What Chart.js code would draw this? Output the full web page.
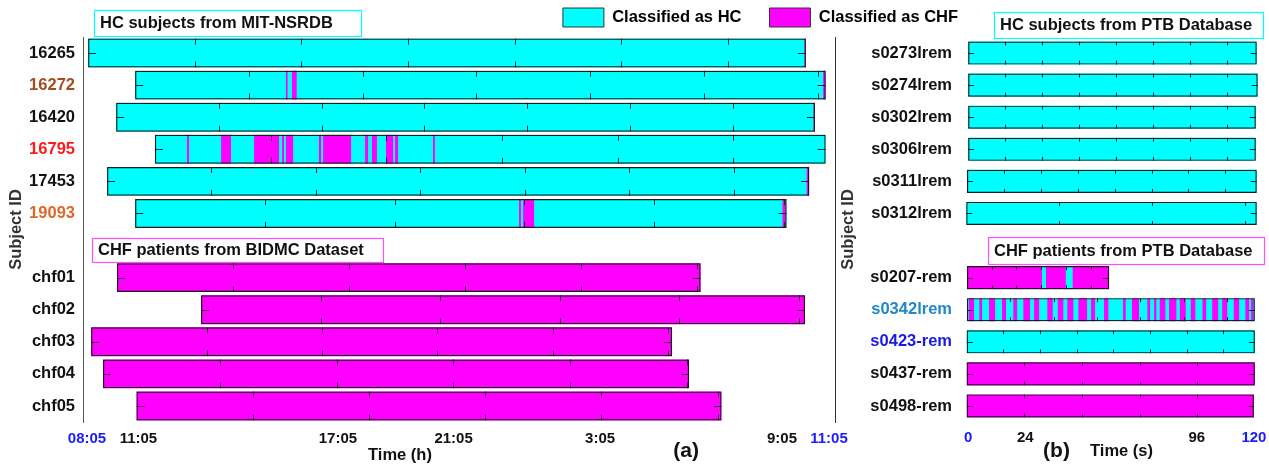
<!DOCTYPE html>
<html>
<head>
<meta charset="utf-8">
<script src="https://cdn.jsdelivr.net/npm/chart.js"></script>
<style>
html, body { margin: 0; padding: 0; background: #fff; overflow: hidden; width: 1269px; height: 466px; }
#wrap { position: relative; width: 1269px; height: 466px; overflow: hidden; background: #fff; }
#ca { position: absolute; left: 0; top: 0; }
#cb { position: absolute; left: 835px; top: 0; }
</style>
</head>
<body>
<div id="wrap">
  <canvas id="ca" width="1521" height="466"></canvas>
  <canvas id="cb" width="434" height="466"></canvas>
</div>
<script>
// ---------------- Panel (a): MIT-NSRDB / BIDMC (time in hours since 08:05) ----------------
const rowsA = ['16265', '16272', '16420', '16795', '17453', '19093', '', 'chf01', 'chf02', 'chf03', 'chf04', 'chf05'];
const classA = ['HC', 'HC', 'HC', 'HC', 'HC', 'HC', null, 'CHF', 'CHF', 'CHF', 'CHF', 'CHF'];
const startA = [0.04, 1.75, 1.06, 2.47, 0.73, 1.75, null, 1.09, 4.15, 0.15, 0.58, 1.80];
const endA = [26.16, 26.88, 26.49, 26.88, 26.28, 25.46, null, 22.33, 26.13, 21.29, 21.91, 23.09];
// intervals classified as the other class
const flipA = [
  [[26.11, 26.16]],
  [[7.24, 7.30], [7.46, 7.63], [26.79, 26.88]],
  [[26.44, 26.49]],
  [[3.64, 3.71], [4.88, 5.24], [6.08, 6.99], [7.10, 7.17], [7.24, 7.50], [8.44, 8.52], [8.59, 9.61],
   [10.12, 10.23], [10.37, 10.55], [10.88, 11.14], [11.21, 11.32], [12.59, 12.66]],
  [[26.19, 26.28]],
  [[15.72, 15.79], [15.87, 16.27], [25.31, 25.43]],
  [], [], [], [], [], []
];
const tickStepA = [3.88, 4.14, 3.74, 4.21, 3.80, 4.72, null, 4.22, 4.35, 4.20, 4.25, 4.23];
const xTickValsA = [0, 1.87, 9.13, 13.34, 18.67, 25.29, 27];
const xTickLabelsA = ['08:05', '11:05', '17:05', '21:05', '3:05', '9:05', '11:05'];
const yColorA = ['#111', '#a54b1e', '#111', '#ff1a1a', '#111', '#e0672a', '#111', '#111', '#111', '#111', '#111', '#111'];

// ---------------- Panel (b): PTB (time in seconds) ----------------
const rowsB = ['s0273lrem', 's0274lrem', 's0302lrem', 's0306lrem', 's0311lrem', 's0312lrem', '',
               's0207-rem', 's0342lrem', 's0423-rem', 's0437-rem', 's0498-rem'];
const classB = ['HC', 'HC', 'HC', 'HC', 'HC', 'HC', null, 'CHF', 'HC', 'HC', 'CHF', 'CHF'];
const startB = [0, 0, 0, 0, -0.5, -0.8, null, -0.5, -0.5, -0.6, -0.6, -0.6];
const endB = [121.2, 121.6, 120.8, 120.8, 121.2, 121.2, null, 59.2, 120.4, 120.4, 120.4, 120.0];
const flipB = [
  [], [], [], [], [], [], [],
  [[31.0, 32.7], [41.0, 43.9]],
  [[0.38, 2.48], [4.70, 5.84], [8.78, 11.30], [14.24, 15.92], [18.98, 20.54], [23.18, 26.00],
   [27.68, 29.78], [33.26, 35.53], [37.63, 39.98], [41.66, 44.18], [46.28, 49.94], [51.62, 53.30],
   [57.08, 58.88], [65.06, 66.19], [68.82, 71.76], [75.26, 76.40], [78.08, 79.04], [80.47, 82.82],
   [84.38, 87.44], [88.87, 91.39], [93.49, 95.42], [98.40, 99.96], [102.48, 105.00], [106.68, 108.78],
   [111.55, 113.78], [116.42, 117.98], [118.82, 119.78]],
  [], [], []
];
const tickStepB = [15.5, 15.5, 15.5, 15.5, 15.5, 39, null, 10.4, 18.2, 15.4, 24.2, 24.2];
const xTickValsB = [0, 24, 96, 120];
const xTickLabelsB = ['0', '24', '96', '120'];
const yColorB = ['#111', '#111', '#111', '#111', '#111', '#111', '#111', '#111', '#1e88c8', '#1a1ae6', '#111', '#111'];

// ---------------- styling ----------------
const CYAN = '#00ffff', MAGENTA = '#ff00ff', BLUE = '#1a1aff';
const COLORS = { HC: CYAN, CHF: MAGENTA };
const FONT = "'Liberation Sans', Arial, Helvetica, sans-serif";
Chart.defaults.font.family = FONT;

function makeDatasets(rows, cls, st, en, flips, pct) {
  const base = [], flip = [], outline = [];
  rows.forEach((r, i) => {
    if (!cls[i]) return;
    base.push({ y: r, x: [st[i], en[i]], c: COLORS[cls[i]] });
    outline.push({ y: r, x: [st[i], en[i]] });
    const other = cls[i] === 'HC' ? 'CHF' : 'HC';
    flips[i].forEach(s => flip.push({ y: r, x: [s[0], s[1]], c: COLORS[other] }));
  });
  const common = { grouped: false, categoryPercentage: 1, barPercentage: pct, xAxisID: 'x', yAxisID: 'y', borderSkipped: false };
  return [
    Object.assign({ label: 'outline', data: outline, backgroundColor: 'rgba(0,0,0,0)', borderColor: '#1a1a1a', borderWidth: 1.2, order: 0 }, common),
    Object.assign({ label: 'flip', data: flip, backgroundColor: c => (c.raw && c.raw.c) || MAGENTA, borderWidth: 0, order: 1 }, common),
    Object.assign({ label: 'base', data: base, backgroundColor: c => (c.raw && c.raw.c) || CYAN, borderWidth: 0, order: 2 }, common)
  ];
}

function barTicksPlugin(id, rows, cls, st, en, steps, pct, len) {
  return {
    id,
    afterDatasetsDraw(chart) {
      const ctx = chart.ctx, xs = chart.scales.x, ys = chart.scales.y;
      const band = ys.getPixelForValue(1) - ys.getPixelForValue(0);
      const half = band * pct / 2;
      ctx.save();
      ctx.strokeStyle = '#222';
      ctx.lineWidth = 1;
      ctx.beginPath();
      rows.forEach((r, i) => {
        if (!cls[i]) return;
        const yc = ys.getPixelForValue(i);
        const yt = yc - half, yb = yc + half;
        const x0 = xs.getPixelForValue(st[i]), x1 = xs.getPixelForValue(en[i]);
        for (let k = 1; k < 100; k++) {
          const v = st[i] + k * steps[i];
          if (v >= en[i]) break;
          const px = Math.round(xs.getPixelForValue(v)) + 0.5;
          ctx.moveTo(px, yt); ctx.lineTo(px, yt + len);
          ctx.moveTo(px, yb - len); ctx.lineTo(px, yb);
        }
        const ym = Math.round(yc) + 0.5;
        ctx.moveTo(x0, ym); ctx.lineTo(x0 + len + 2, ym);
        ctx.moveTo(x1 - len - 2, ym); ctx.lineTo(x1, ym);
      });
      ctx.stroke();
      ctx.restore();
    }
  };
}

function notesPlugin(id, notes) {
  return {
    id,
    afterDraw(chart) {
      const ctx = chart.ctx, ca = chart.chartArea, xs = chart.scales.x, ys = chart.scales.y;
      ctx.save();
      notes.forEach(n => {
        ctx.font = 'bold ' + n.size + 'px ' + FONT;
        ctx.textBaseline = 'middle';
        if (n.box) {
          const x0 = Math.round(xs.getPixelForValue(n.x0)), x1 = Math.round(xs.getPixelForValue(n.x1));
          const top = Math.round(n.row != null ? ys.getPixelForValue(n.row) + n.dy : ca.top + n.dy);
          ctx.fillStyle = '#fff';
          ctx.fillRect(x0, top, x1 - x0, n.h);
          ctx.strokeStyle = n.border;
          ctx.lineWidth = 1.2;
          ctx.strokeRect(x0 + 0.5, top + 0.5, x1 - x0, n.h);
          ctx.fillStyle = '#111';
          ctx.textAlign = 'left';
          ctx.fillText(n.text, x0 + 6, top + n.h / 2 + 0.5);
        } else {
          ctx.fillStyle = '#111';
          ctx.textAlign = 'center';
          ctx.fillText(n.text, xs.getPixelForValue(n.xv), ca.bottom + n.dy);
        }
      });
      ctx.restore();
    }
  };
}

const tickFont = { family: FONT, size: 15, weight: 'bold' };
const labFont = { family: FONT, size: 16.5, weight: 'bold' };
const noPad = s => { s.paddingLeft = 0; s.paddingRight = 0; };

// ---------------- Chart (a) ----------------
new Chart(document.getElementById('ca'), {
  type: 'bar',
  data: { labels: rowsA, datasets: makeDatasets(rowsA, classA, startA, endA, flipA, 0.9) },
  options: {
    responsive: false, animation: false, events: [],
    indexAxis: 'y',
    layout: { padding: { top: -20, left: 0, right: 0, bottom: 0 } },
    plugins: {
      tooltip: { enabled: false },
      legend: {
        display: true, position: 'top', align: 'center',
        labels: {
          boxWidth: 41, boxHeight: 19, padding: 28, color: '#111', font: labFont,
          generateLabels: () => [
            { text: 'Classified as HC', fillStyle: CYAN, strokeStyle: '#333', lineWidth: 1, hidden: false, datasetIndex: 0 },
            { text: 'Classified as CHF', fillStyle: MAGENTA, strokeStyle: '#333', lineWidth: 1, hidden: false, datasetIndex: 1 }
          ]
        }
      }
    },
    scales: {
      x: {
        type: 'linear', bounds: 'data', min: -0.146, max: 27.22,
        grid: { display: false, drawTicks: false }, border: { display: false },
        afterBuildTicks: s => { s.ticks = xTickValsA.map(v => ({ value: v })); },
        ticks: {
          autoSkip: false, maxRotation: 0, padding: 8, font: tickFont,
          color: c => (c.index === 0 || c.index === xTickLabelsA.length - 1) ? BLUE : '#111',
          callback: (v, i) => xTickLabelsA[i]
        },
        afterFit: s => { s.height = 44; noPad(s); }
      },
      y: {
        type: 'category', labels: rowsA, offset: true,
        grid: { display: false, drawTicks: false },
        border: { display: true, color: '#555', width: 1 },
        ticks: { padding: 8, font: labFont, color: c => yColorA[c.index] || '#111' },
        title: { display: true, text: 'Subject ID', font: labFont, color: '#333', padding: { top: 7, bottom: 0 } },
        afterFit: s => { s.width = 83; }
      },
      sep: {
        type: 'linear', position: 'right', display: true,
        grid: { display: false, drawTicks: false, drawOnChartArea: false },
        border: { display: true, color: '#333', width: 1 },
        ticks: { display: false },
        afterFit: s => { s.width = 1521 - 835; }
      }
    }
  },
  plugins: [
    barTicksPlugin('ticksA', rowsA, classA, startA, endA, tickStepA, 0.9, 6),
    notesPlugin('notesA', [
      { box: true, text: 'HC subjects from MIT-NSRDB', x0: 0.25, x1: 9.97, dy: -27, h: 26, border: CYAN, size: 16.5 },
      { box: true, text: 'CHF patients from BIDMC Dataset', x0: 0.18, x1: 10.77, row: 6, dy: -7.5, h: 24, border: '#ff4dff', size: 16.5 },
      { text: 'Time (h)', xv: 11.39, dy: 33, size: 16.5 },
      { text: '(a)', xv: 21.8, dy: 29, size: 21 }
    ])
  ]
});

// ---------------- Chart (b) ----------------
new Chart(document.getElementById('cb'), {
  type: 'bar',
  data: { labels: rowsB, datasets: makeDatasets(rowsB, classB, startB, endB, flipB, 0.72) },
  options: {
    responsive: false, animation: false, events: [],
    indexAxis: 'y',
    layout: { padding: { top: 37, left: 0, right: 7, bottom: 0 } },
    plugins: { tooltip: { enabled: false }, legend: { display: false } },
    scales: {
      x: {
        type: 'linear', bounds: 'data', min: -3, max: 123.4,
        grid: { display: false, drawTicks: false }, border: { display: false },
        afterBuildTicks: s => { s.ticks = xTickValsB.map(v => ({ value: v })); },
        ticks: {
          autoSkip: false, maxRotation: 0, padding: 7, font: tickFont,
          color: c => (c.index === 0 || c.index === xTickLabelsB.length - 1) ? BLUE : '#111',
          callback: (v, i) => xTickLabelsB[i]
        },
        afterFit: s => { s.height = 44; noPad(s); }
      },
      y: {
        type: 'category', labels: rowsB, offset: true,
        grid: { display: false, drawTicks: false },
        border: { display: false },
        ticks: { padding: 9, font: labFont, color: c => yColorB[c.index] || '#111' },
        title: { display: true, text: 'Subject ID', font: labFont, color: '#333', padding: { top: 4, bottom: 0 } },
        afterFit: s => { s.width = 126; }
      }
    }
  },
  plugins: [
    barTicksPlugin('ticksB', rowsB, classB, startB, endB, tickStepB, 0.72, 4),
    notesPlugin('notesB', [
      { box: true, text: 'HC subjects from PTB Database', x0: 10.9, x1: 123.9, dy: -25, h: 26, border: CYAN, size: 16.5 },
      { box: true, text: 'CHF patients from PTB Database', x0: 8.4, x1: 124.3, row: 6, dy: -8.5, h: 27, border: '#ff4dff', size: 16.5 },
      { text: '(b)', xv: 37.1, dy: 29, size: 21 },
      { text: 'Time (s)', xv: 64.4, dy: 29, size: 16.5 }
    ])
  ]
});
</script>
</body>
</html>
